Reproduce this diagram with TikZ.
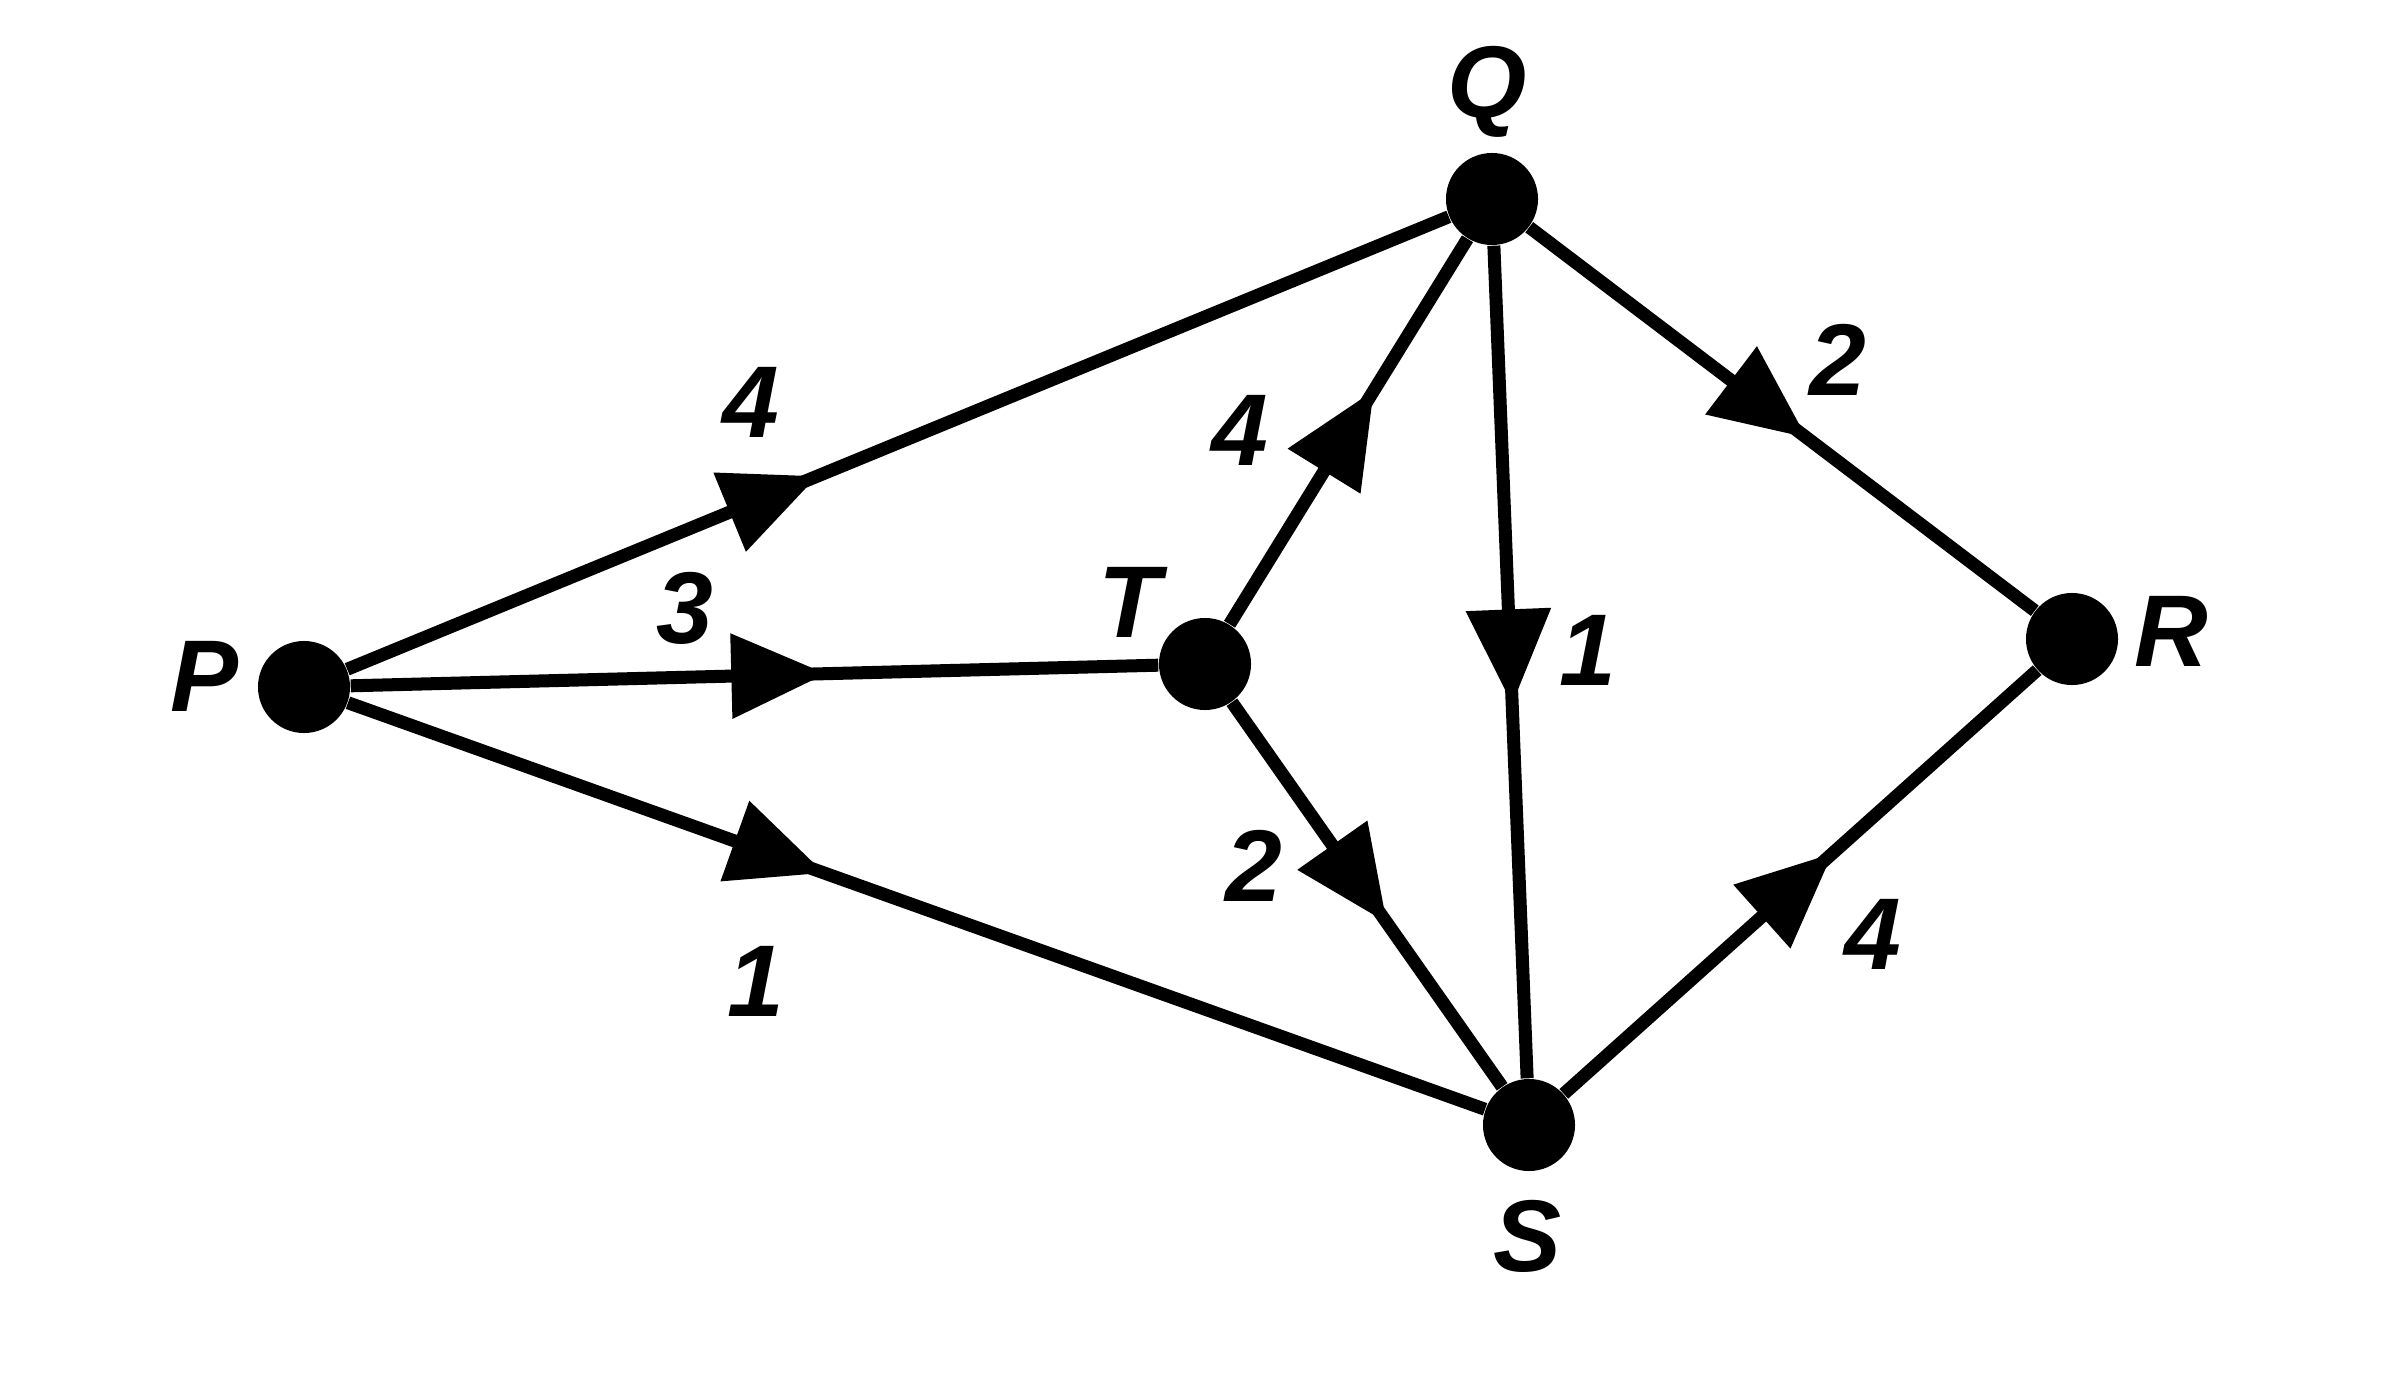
\documentclass[tikz,border=0pt]{standalone}
\usepackage{fontspec}
\setmainfont{Liberation Sans}
\usetikzlibrary{arrows.meta,decorations.markings}
\tikzset{
  vertex/.style={circle,fill=black,draw=none,inner sep=0pt,minimum size=0.92cm},
  lbl/.style={font=\fontsize{29}{34}\selectfont\bfseries\itshape,inner sep=0pt},
  edge/.style={line width=0.13cm},
  mid/.style={postaction={decorate},decoration={markings,
     mark=at position #1 with {\arrow{Triangle[length=0.95cm,width=0.82cm]}}}}
}
\begin{document}
\begin{tikzpicture}[x=0.01cm,y=-0.01cm]
\useasboundingbox (0,0) rectangle (2384,1388);
\node[vertex] (P) at (304,687) {};
\node[vertex] (Q) at (1492,199) {};
\node[vertex] (T) at (1205,664) {};
\node[vertex] (R) at (2072,639) {};
\node[vertex] (S) at (1529,1125) {};

\node[lbl] (Pl) at (205,676) {P};
\node[lbl] (Ql) at (1487,92) {Q};
\node[lbl] (Tl) at (1130,602) {T};
\node[lbl] (Rl) at (2171,631) {R};
\node[lbl] (Sl) at (1527,1236) {S};

\draw[edge,mid=0.427] (P) -- (Q);
\draw[edge,mid=0.589] (P) -- (T);
\draw[edge,mid=0.419] (P) -- (S);
\draw[edge,mid=0.607] (T) -- (Q);
\draw[edge,mid=0.574] (T) -- (S);
\draw[edge,mid=0.551] (Q) -- (S);
\draw[edge,mid=0.549] (Q) -- (R);
\draw[edge,mid=0.568] (S) -- (R);

\node[lbl] (wPQ) at (751,402) {4};
\node[lbl] (wPT) at (685,608) {3};
\node[lbl] (wPS) at (756,981) {1};
\node[lbl] (wTQ) at (1240,430) {4};
\node[lbl] (wTS) at (1254,866) {2};
\node[lbl] (wQS) at (1588,650) {1};
\node[lbl] (wQR) at (1838,360) {2};
\node[lbl] (wSR) at (1873,934) {4};
\end{tikzpicture}
\end{document}
